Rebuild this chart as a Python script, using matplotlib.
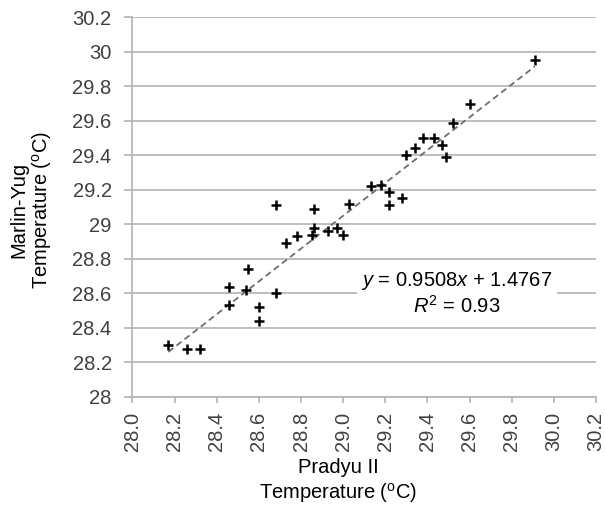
import matplotlib
matplotlib.use("Agg")
import matplotlib.pyplot as plt
import numpy as np

matplotlib.rcParams.update({'font.family': 'Liberation Sans',
                            'mathtext.fontset': 'custom',
                            'mathtext.rm': 'Liberation Sans',
                            'mathtext.it': 'Liberation Sans:italic'})

# Pradyu II vs Marlin-Yug temperatures (degC)
pradyu = [28.17, 28.26, 28.32, 28.46, 28.46, 28.55, 28.54, 28.60, 28.60, 28.68,
          28.68, 28.73, 28.78, 28.86, 28.85, 28.86, 28.93, 28.97, 29.00, 29.03,
          29.13, 29.18, 29.22, 29.22, 29.28, 29.30, 29.34, 29.38, 29.43, 29.47,
          29.49, 29.52, 29.60, 29.91]
marlin = [28.30, 28.28, 28.28, 28.53, 28.64, 28.74, 28.62, 28.52, 28.44, 28.60,
          29.11, 28.89, 28.93, 28.98, 28.94, 29.09, 28.96, 28.98, 28.94, 29.12,
          29.22, 29.23, 29.19, 29.11, 29.15, 29.40, 29.44, 29.50, 29.50, 29.46,
          29.39, 29.59, 29.70, 29.95]

slope = 0.9508
intercept = 1.4767
r2 = 0.93

x_ticks = np.round(np.arange(28.0, 30.21, 0.2), 1)
y_ticks = np.round(np.arange(28.0, 30.21, 0.2), 1)

gray = '#b3b3b3'
txt = '#404040'

fig = plt.figure(figsize=(6.05, 5.07), dpi=100)
ax = fig.add_axes([0.219, 0.217, 0.766, 0.749])

# trendline
xl = np.array([min(pradyu), max(pradyu)])
ax.plot(xl, slope * xl + intercept, ls=(0, (3.5, 2.2)), color='#6e6e6e', lw=1.3, zorder=2)

ax.plot(pradyu, marlin, '+', color='black', ms=7, mew=1.8, zorder=3)

ax.set_xlim(28.0, 30.2)
ax.set_ylim(28.0, 30.2)
ax.set_xticks(x_ticks)
ax.set_xticklabels(['%.1f' % t for t in x_ticks], rotation=90)
ax.set_yticks(y_ticks)
ax.set_yticklabels(['%g' % t for t in y_ticks])

ax.yaxis.grid(True, color=gray, lw=1.2)
ax.set_axisbelow(True)
for s in ['top', 'right']:
    ax.spines[s].set_visible(False)
for s in ['left', 'bottom']:
    ax.spines[s].set_color(gray)
    ax.spines[s].set_linewidth(1.2)
ax.tick_params(axis='both', colors=gray, width=1.2, labelsize=14.5, labelcolor=txt)
ax.tick_params(axis='y', length=6, pad=9)
ax.tick_params(axis='x', length=4.5, pad=6)

ax.set_xlabel('Pradyu II\nTemperature ($^{\\mathrm{o}}$C)', fontsize=14.5, linespacing=1.2)
ax.xaxis.set_label_coords(0.444, -0.162)
ax.set_ylabel('Marlin-Yug\nTemperature ($^{\\mathrm{o}}$C)', fontsize=14.5, linespacing=1.1)
ax.yaxis.set_label_coords(-0.169, 0.492)

ax.text(29.54, 28.60,
        '$y$ = %.4f$x$ + %.4f\n$R^{\\mathrm{2}}$ = %.2f' % (slope, intercept, r2),
        ha='center', va='center', fontsize=14.5, linespacing=1.15, color='black',
        bbox=dict(facecolor='white', edgecolor='none', pad=3), zorder=1.5)

plt.savefig('out.png', dpi=100)
